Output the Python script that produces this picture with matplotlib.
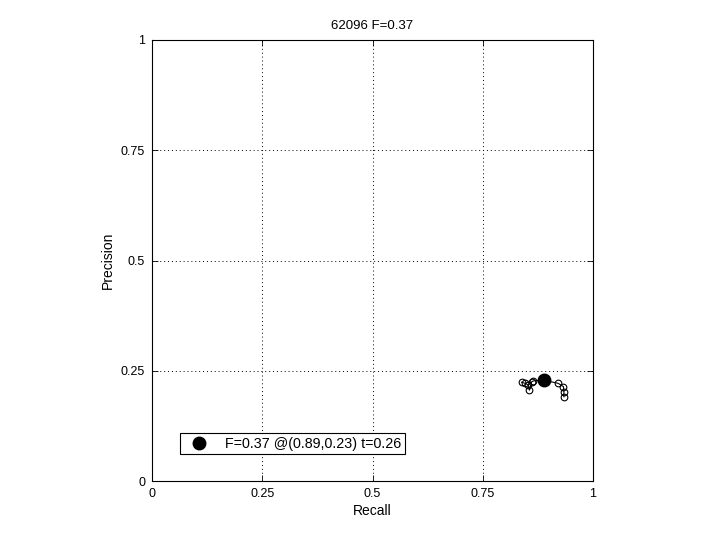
import matplotlib
matplotlib.use("Agg")
import matplotlib.pyplot as plt

plt.rcParams['font.family'] = ['Liberation Sans', 'DejaVu Sans']

recall = [0.934, 0.934, 0.933, 0.921, 0.887, 0.865, 0.861, 0.856, 0.853, 0.846, 0.838]
precision = [0.191, 0.2025, 0.214, 0.2215, 0.229, 0.227, 0.225, 0.206, 0.218, 0.2215, 0.224]
best_r, best_p = 0.89, 0.23
best_label = "F=0.37 @(0.89,0.23) t=0.26"
title = "62096 F=0.37"
ticks = [0, 0.25, 0.5, 0.75, 1]
tick_labels = ["0", "0.25", "0.5", "0.75", "1"]

fig = plt.figure(figsize=(7.2, 5.4), dpi=100)
ax = fig.add_axes([152/720, 1-481/540, 441/720, 441/540])
ax.plot(recall, precision, '-', color='black', lw=0.8, marker='o', mfc='none', mec='black', ms=4.8, mew=0.8)
h, = ax.plot([best_r], [best_p], 'o', color='black', ms=9)
ax.set_xlim(0, 1)
ax.set_ylim(0, 1)
ax.set_xticks(ticks)
ax.set_xticklabels(tick_labels)
ax.set_yticks(ticks)
ax.set_yticklabels(tick_labels)
ax.tick_params(direction='in', top=True, right=True, labelsize=9, length=4, width=0.6, pad=5)
ax.grid(True, linestyle=(0, (1, 3)), color='black', lw=0.7)
for s in ax.spines.values():
    s.set_linewidth(0.8)
ax.set_xlabel("Recall", fontsize=10, labelpad=3)
ax.set_ylabel("Precision", fontsize=10, labelpad=4)
ax.set_title(title, fontsize=9.5, pad=8)
leg = ax.legend([h], [best_label], loc='lower left', bbox_to_anchor=(0.063, 0.061),
                fontsize=10.3, fancybox=False, framealpha=1, edgecolor='black',
                borderpad=0.25, handletextpad=0.7, borderaxespad=0, handlelength=2.2)
leg.get_frame().set_linewidth(0.8)
fig.savefig("out.png", dpi=100)
